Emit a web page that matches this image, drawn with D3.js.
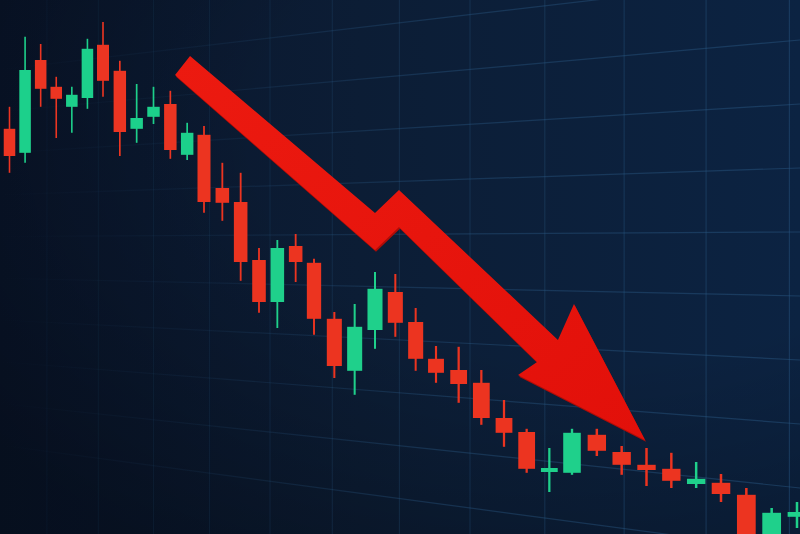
<!DOCTYPE html>
<html><head><meta charset="utf-8">
<script src="https://cdn.jsdelivr.net/npm/d3@7"></script>
<style>html,body{margin:0;padding:0;background:#0b1a30;overflow:hidden}</style>
</head><body>
<svg id="chart" width="800" height="534"></svg>
<script>
// ---- data (candles, left to right) ----
const candleIndex = d3.range(40);
const open  = [107.8,101.8,125,118.3,113.3,115.5,128.8,122.3,107.8,110.8,114,101.3,106.3,93,89.5,75,64.5,78.5,74.3,60.3,47.3,57.5,67,59.5,50.3,47.5,44.3,35.5,32,22,21.8,31.3,27,23.8,22.8,19,19.3,16.3,-5,10.8];
const close = [101,122.5,117.8,115.3,116.3,127.8,119.8,107,110.5,113.3,102.5,106.8,89.5,89.3,74.5,64.5,78,74.5,60.3,48.5,58.3,67.8,59.3,50.3,46.8,44,35.5,31.8,22.8,23,31.8,27.3,23.8,22.5,19.8,20.3,16.5,-5,11.8,12];
const high  = [113.3,130.8,129,120.8,118.3,130.3,134.5,124.8,119,118.3,117.3,109.3,108.5,99.3,96.8,78,80,81.5,75.3,62,64,72,71.5,63,53.5,53.3,47.5,40,32.8,28,32.8,32.8,28.5,28,26.8,24.5,21.5,18,13,14.5];
const low   = [96.8,99.3,113.3,105.5,106.8,112.8,115.8,101,104.3,109,100.3,100,86.8,84.8,69.8,61.8,58,69.5,56.3,45.5,41.3,52.8,55.8,47.3,44.3,39.3,33.8,28.3,21.8,17,21.3,26,21.3,18.5,18,18,14.5,-8,-8,8];
// grid: vertical lines every 3.3 candles, horizontal every 16 price units
const gridIndex = d3.range(2.4, 40, 3.3);
const gridPrice = d3.range(2, 150, 16);
// trend arrow (in candle-index / price space)
const arrowIdx   = [11.17, 21.0, 22.18, 29.38, 30.08, 32.94, 27.62, 28.46, 22.18, 21.0, 10.28];
const arrowPrice = [126,   86.75, 92.5, 55,    64,    30,    46.25, 49.5,  83.25, 77.5, 121.25];

const W = 800, H = 534;
const svg = d3.select('#chart');
const defs = svg.append('defs');

// perspective-like index scale (candles get wider to the right)
const x = d3.scaleLinear()
  .domain([0, 6, 12, 18, 24, 30, 36, 39])
  .range([9.5, 103, 204, 314, 436, 572, 721, 797]);
const y = d3.scaleLinear().domain([0, 140]).range([560, 0]);

// background
const bg = defs.append('linearGradient').attr('id','bg').attr('x1',0).attr('y1',0).attr('x2',1).attr('y2',0);
bg.append('stop').attr('offset','0%').attr('stop-color','#09152b');
bg.append('stop').attr('offset','45%').attr('stop-color','#0c1d35');
bg.append('stop').attr('offset','100%').attr('stop-color','#0c2342');
svg.append('rect').attr('width',W).attr('height',H).attr('fill','url(#bg)');
const vg = defs.append('radialGradient').attr('id','vig').attr('cx','75%').attr('cy','25%').attr('r','95%');
vg.append('stop').attr('offset','45%').attr('stop-color','#000').attr('stop-opacity',0);
vg.append('stop').attr('offset','100%').attr('stop-color','#000').attr('stop-opacity',0.3);
svg.append('rect').attr('width',W).attr('height',H).attr('fill','url(#vig)');

// grid
const gg = svg.append('g');
const hgrad = defs.append('linearGradient').attr('id','hgrad').attr('gradientUnits','userSpaceOnUse')
  .attr('x1',0).attr('y1',0).attr('x2',W).attr('y2',0);
hgrad.append('stop').attr('offset','0%').attr('stop-color','#2a5a86').attr('stop-opacity',0.0);
hgrad.append('stop').attr('offset','25%').attr('stop-color','#2a5a86').attr('stop-opacity',0.12);
hgrad.append('stop').attr('offset','55%').attr('stop-color','#2a5a86').attr('stop-opacity',0.38);
hgrad.append('stop').attr('offset','100%').attr('stop-color','#2a5a86').attr('stop-opacity',0.45);
const vp = {x: -1500, y: 245}; // vanishing point of the horizontal grid
gg.selectAll('line.h').data(gridPrice).join('line').attr('class','h')
  .attr('x1', 0).attr('x2', W)
  .attr('y1', p => vp.y + (y(p) - vp.y) * (0 - vp.x) / (W - vp.x))
  .attr('y2', p => y(p))
  .attr('stroke','url(#hgrad)').attr('stroke-width',1.2);
gg.selectAll('line.v').data(gridIndex).join('line').attr('class','v')
  .attr('x1', d => x(d)).attr('x2', d => x(d)).attr('y1',0).attr('y2',H)
  .attr('stroke','#2a5a86').attr('stroke-opacity', d => 0.06 + 0.36 * x(d) / W).attr('stroke-width',1.2);

// soft focus on the far (left) candles
defs.append('filter').attr('id','soft').attr('x','-50%').attr('y','-10%').attr('width','200%').attr('height','120%')
  .append('feGaussianBlur').attr('stdDeviation',0.7);

// candles
const RED = '#ec3420', GREEN = '#1fd08b';
const candles = candleIndex.map(i => ({i, o: open[i], h: high[i], l: low[i], c: close[i]}));
const step = i => x(i + 0.5) - x(i - 0.5);
const cg = svg.append('g');
const cs = cg.selectAll('g').data(candles).join('g')
  .attr('filter', d => d.i < 12 ? 'url(#soft)' : null);
cs.append('line')
  .attr('x1', d => x(d.i)).attr('x2', d => x(d.i))
  .attr('y1', d => y(d.h)).attr('y2', d => y(d.l))
  .attr('stroke', d => d.c >= d.o ? GREEN : RED)
  .attr('stroke-width', d => Math.max(1.6, step(d.i) * 0.1));
cs.append('rect')
  .attr('x', d => x(d.i) - step(d.i) * 0.37)
  .attr('width', d => step(d.i) * 0.74)
  .attr('y', d => y(Math.max(d.o, d.c)))
  .attr('height', d => Math.max(2.5, Math.abs(y(d.o) - y(d.c))))
  .attr('fill', d => d.c >= d.o ? GREEN : RED);

// arrow
const pts = arrowIdx.map((v, k) => [x(v), y(arrowPrice[k])]);
const ag = defs.append('linearGradient').attr('id','arr').attr('x1',0).attr('y1',0).attr('x2',1).attr('y2',1);
ag.append('stop').attr('offset','0%').attr('stop-color','#ec1a10');
ag.append('stop').attr('offset','100%').attr('stop-color','#e2100a');
svg.append('polygon')
  .attr('points', pts.map(p => [p[0] + 1, p[1] + 1.8].join(',')).join(' '))
  .attr('fill', '#b00c07');
svg.append('polygon')
  .attr('points', pts.map(p => p.join(',')).join(' '))
  .attr('fill', 'url(#arr)');
</script>
</body></html>
